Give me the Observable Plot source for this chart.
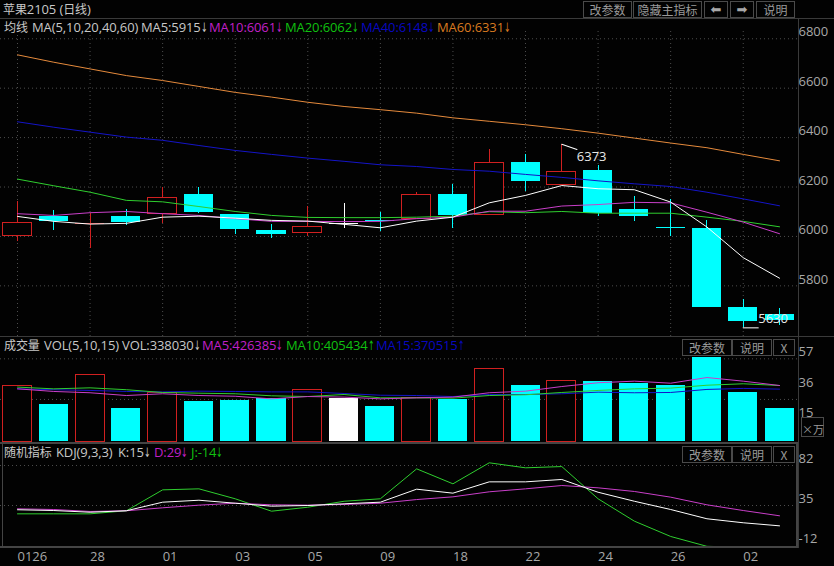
<!DOCTYPE html>
<html><head><meta charset="utf-8">
<script src="https://cdn.jsdelivr.net/npm/d3@7"></script>
<script src="https://cdn.jsdelivr.net/npm/@observablehq/plot@0.6"></script>
<style>
html,body{margin:0;padding:0;background:#020202;width:834px;height:566px;overflow:hidden}
#page{position:relative;width:834px;height:566px;font-family:"Open Sans","Noto Sans CJK SC",sans-serif;font-size:13px;color:#c8c8c8}
.panel{position:absolute;left:0}
.panel svg{display:block;background:transparent}
.t{position:absolute;white-space:nowrap;line-height:16px;letter-spacing:-0.1px}
.t .cjk{font-size:12px;font-family:"Noto Sans CJK SC",sans-serif}
.t .arr{font-family:"DejaVu Sans",sans-serif;font-size:13px;display:inline-block;width:7px;transform:scaleX(.6);transform-origin:left center}
.b{position:absolute;box-sizing:border-box;border:1px solid #4a4a4a;text-align:center;color:#9a9a9a;line-height:16px;font-size:12px;font-family:"Noto Sans CJK SC",sans-serif;white-space:nowrap}
.b.ar{font-family:"DejaVu Sans",sans-serif;font-size:13px;color:#a8a8a8}
.l{position:absolute;background:#3a3a3a}
</style></head><body><div id="page"></div>
<script>
const dates=["0126","0127","0128","0129","0201","0202","0203","0204","0205","0208","0209","0210","0218","0219","0222","0223","0224","0225","0226","0301","0302","0303"];
const labelled=["0126","0128","0201","0203","0205","0209","0218","0222","0224","0226","0302"];
const kinds=["up","down","up","down","up","down","down","down","up","flat","down","up","down","up","down","up","down","down","down","down","down","down"];
const open=[6001,6081,6054,6081,6092,6170,6089,6024,6013,6051,6064,6072,6170,6086,6298,6208,6267,6109,6035,6032,5713,5683];
const close=[6055,6061,6054,6057,6157,6097,6028,6008,6038,6051,6060,6169,6085,6298,6223,6262,6092,6081,6035,5714,5657,5660];
const high=[6142,6105,6092,6108,6200,6200,6089,6049,6121,6135,6097,6179,6210,6352,6332,6373,6287,6162,6148,6065,5744,5707];
const low=[5981,6024,5953,6045,6054,6094,6008,5992,6000,6034,6021,6072,6034,6086,6182,6208,6082,6062,6000,5714,5630,5640];
const ma5=[6081,6061,6050,6053,6078,6082,6074,6065,6062,6049,6035,6062,6078,6136,6166,6206,6193,6189,6139,6038,5914,5831];
const ma10=[6092,6085,6096,6101,6092,6085,6072,6061,6061,6060,6061,6072,6078,6102,6102,6123,6129,6138,6136,6098,6058,6011];
const ma20=[6232,6205,6179,6146,6140,6121,6101,6085,6077,6076,6076,6078,6082,6100,6096,6101,6094,6094,6094,6078,6061,6039];
const ma40=[6464,6442,6422,6402,6389,6368,6348,6332,6317,6304,6290,6283,6271,6264,6251,6239,6225,6213,6202,6179,6152,6124];
const ma60=[6735,6705,6678,6651,6631,6607,6583,6564,6543,6526,6513,6499,6480,6466,6452,6436,6418,6398,6378,6359,6332,6306];
const priceTicks=[6800,6600,6400,6200,6000,5800];
const vol=[38.4,25.5,46,22.8,33.6,27.6,28.5,29.9,35.6,29.9,24.1,29.9,29,50,38.6,41.8,41.4,40,38.6,58.1,33.8,22.8];
const volMa5=[36.3,34.5,33.6,31.7,32.9,31.7,31.2,29.4,31,30.6,29.4,30.1,30.6,33.6,34.7,37.9,40.5,41.6,40.2,44.1,41.6,38.6];
const volMa10=[37.5,36.3,37,35.7,33.8,33.3,32.9,31.5,31,32.4,30.1,30.1,29.9,31.7,32.2,33.8,35.2,36.3,36.8,38.8,39.8,38.6];
const volMa15=[36.3,35.7,35.2,34.5,34.2,34.7,34.5,34.2,34.2,33.1,31.9,31.7,31,32.4,32.4,32.9,34,33.6,33.8,35.9,36.6,36.1];
const volTicks=[57,36,15];
const volGrid=[57,29];
const kVals=[30,29.1,27.1,28.8,38.9,41.2,37.7,34.2,35,37,38.9,54.2,49.5,62.8,62.8,65.6,50.6,40,30.3,19.4,14.7,11.1];
const dVals=[31.1,30.3,28,28.8,32.3,35.4,37.7,35.8,35.4,36.2,37.7,42,45.2,51.1,54.6,58.5,55.8,51.5,44.8,35.8,29.1,22.9];
const jVals=[25.2,25.2,25.2,28.8,53.4,54.6,42.9,28.3,33,40,42.9,78.1,60.5,85.2,79.3,80.8,42.9,16.6,-1.4,-13,-14,-22];
const kdjTicks=[82,35,-12];

const C={up:"#d02020",down:"#00ffff",flat:"#ffffff",white:"#ffffff",mag:"#c93fc9",green:"#2fce2f",blue:"#1414c8",orange:"#e58a3c",grid:"#4d4d4d",axis:"#a8a8a8"};
const page=document.getElementById("page");
const table=dates.map((date,i)=>({date,kind:kinds[i],open:open[i],close:close[i],high:high[i],low:low[i],vol:vol[i]}));
const xScale={type:"band",domain:dates,range:[-4.77,800.8],padding:0.2,round:false};
const line=(vals,stroke,extra={})=>Plot.line(dates.map((d,i)=>({d,v:vals[i]})),{x:"d",y:"v",stroke,strokeWidth:1,...extra});
const yAxis=(ticks)=>Plot.axisY(ticks,{anchor:"right",tickSize:0,tickPadding:0,textAnchor:"start",dy:-6.5,dx:0,color:C.axis,fontSize:13,label:null,tickFormat:d=>String(d)});
const yGrid=(ticks)=>Plot.gridY(ticks,{stroke:C.grid,strokeOpacity:1,strokeDasharray:"1,3"});
const leader=(len,rotate,rows)=>Plot.vector(rows,{x:"date",y:"v",length:len,rotate,anchor:"start",stroke:"#fff",strokeWidth:1,shape:{draw(c,l){c.moveTo(0,0);c.lineTo(0,-l)}}});

function mount(svg,top){const d=document.createElement("div");d.className="panel";d.style.top=top+"px";d.appendChild(svg);page.appendChild(d);}
const baseStyle={background:"transparent",fontFamily:'"Open Sans",sans-serif',fontSize:"13px"};
const crisp={shapeRendering:"crispEdges"};

const bodies=table.filter(d=>d.open!==d.close);
const dojis=table.filter(d=>d.open===d.close);
mount(Plot.plot({
  width:834,height:317,marginLeft:0,marginRight:36,marginTop:0,marginBottom:0,style:baseStyle,
  x:{...xScale,axis:null},
  y:{domain:[5595,6878],label:null},
  marks:[
    yGrid(priceTicks),
    Plot.ruleX(labelled,{x:d=>d,y1:5595,y2:6830,stroke:C.grid,strokeDasharray:"1,3"}),
    Plot.ruleX(table,{x:"date",y1:"low",y2:"high",stroke:d=>C[d.kind],strokeWidth:1,...crisp}),
    Plot.barY(bodies,{x:"date",y1:"open",y2:"close",fill:d=>d.kind==="up"?"#020202":C[d.kind],stroke:d=>C[d.kind],strokeWidth:d=>d.kind==="up"?1:0,...crisp}),
    Plot.tickY(dojis,{x:"date",y:"close",stroke:d=>C[d.kind],strokeWidth:1,...crisp}),
    line(ma60,C.orange),line(ma40,C.blue),line(ma20,C.green),line(ma10,C.mag),line(ma5,C.white),
    leader(16,109,[{date:"0223",v:6373}]),
    leader(15,90,[{date:"0302",v:5630}]),
    Plot.text([{date:"0223",v:6373,s:"6373"}],{x:"date",y:"v",text:"s",dx:15,dy:13,textAnchor:"start",fill:"#e8e8e8",fontSize:13}),
    Plot.text([{date:"0302",v:5630,s:"5630"}],{x:"date",y:"v",text:"s",dx:15,dy:-9,textAnchor:"start",fill:"#e8e8e8",fontSize:13}),
    yAxis(priceTicks)
  ]
}),19);

mount(Plot.plot({
  width:834,height:105,marginLeft:0,marginRight:36,marginTop:0,marginBottom:1,style:baseStyle,
  x:{...xScale,axis:null},
  y:{domain:[0,71.7],label:null},
  marks:[
    yGrid(volGrid),
    Plot.barY(table,{x:"date",y:"vol",fill:d=>d.kind==="up"?"#020202":C[d.kind],stroke:d=>d.kind==="up"?C.up:"none",strokeWidth:1,...crisp}),
    line(volMa15,C.blue),line(volMa10,C.green),line(volMa5,C.mag),
    yAxis(volTicks)
  ]
}),337);

mount(Plot.plot({
  width:834,height:123,marginLeft:0,marginRight:36,marginTop:0,marginBottom:20,style:baseStyle,
  x:{...xScale,label:null},
  y:{domain:[-13.2,107.9],label:null},
  marks:[
    yGrid(kdjTicks.slice(0,2)),
    Plot.axisX(labelled,{anchor:"bottom",tickSize:0,tickPadding:5,textAnchor:"start",color:C.axis,fontSize:13,label:null,tickFormat:d=>d==="0126"?d:d.slice(2)}),
    line(jVals,C.green,{clip:true}),line(dVals,C.mag,{clip:true}),line(kVals,C.white,{clip:true}),
    yAxis(kdjTicks)
  ]
}),443);

function hl(x,y,w,h,c){const e=document.createElement("div");e.className="l";e.style.cssText+=`left:${x}px;top:${y}px;width:${w}px;height:${h}px;`+(c?`background:${c};`:"");page.appendChild(e);}
hl(0,18,834,1);hl(0,336,834,1);hl(0,442,797,2,"#444");hl(0,546,798,2,"#444");hl(2,442,1,105,"#444");
hl(798,18,1,530);hl(796,442,2,105,"#444");
function txt(s,x,y,c){const e=document.createElement("div");e.className="t";
  e.innerHTML=s.replace(/[\u4e00-\u9fff]+/g,m=>`<span class="cjk">${m}</span>`).replace(/[↓↑]/g,m=>`<span class="arr">${m}</span>`);
  e.style.left=x+"px";e.style.top=(y-8)+"px";if(c)e.style.color=c;page.appendChild(e);}
const legMag="#c020c8",legGreen="#10c010",legBlue="#0808c0",legOrange="#d87a20";
txt("苹果2105 (日线)",3,9);
txt("均线",4,27);txt("MA(5,10,20,40,60)",32,27);txt("MA5:5915↓",141,27);
txt("MA10:6061↓",209,27,legMag);txt("MA20:6062↓",285,27,legGreen);txt("MA40:6148↓",361,27,legBlue);txt("MA60:6331↓",437,27,legOrange);
txt("成交量",4,345);txt("VOL(5,10,15)",44,345);txt("VOL:338030↓",122,345);
txt("MA5:426385↓",202,345,legMag);txt("MA10:405434↑",286,345,legGreen);txt("MA15:370515↑",376,345,legBlue);
txt("随机指标",4,452);txt("KDJ(9,3,3)",56,452);txt("K:15↓",118,452);txt("D:29↓",154,452,legMag);txt("J:-14↓",191,452,legGreen);
function btn(s,x1,x2,y1,y2,cls,extra){const e=document.createElement("div");e.className="b"+(cls?" "+cls:"");e.textContent=s;e.style.cssText+=`left:${x1}px;top:${y1}px;width:${x2-x1}px;height:${y2-y1}px;`+(extra||"");page.appendChild(e);}
btn("改参数",583,632,1,18);btn("隐藏主指标",633,702,1,18);btn("⬅",704,728,1,18,"ar");btn("➡",730,754,1,18,"ar");btn("说明",756,795,1,18);
btn("改参数",682,732,339,356);btn("说明",732,772,339,356);btn("X",773,795,339,356);
btn("改参数",682,732,446,463);btn("说明",732,772,446,463);btn("X",773,795,446,463);
btn("×万",801,824,417,437,"","line-height:12px;padding-top:5px;font-size:11px;");
</script></body></html>
